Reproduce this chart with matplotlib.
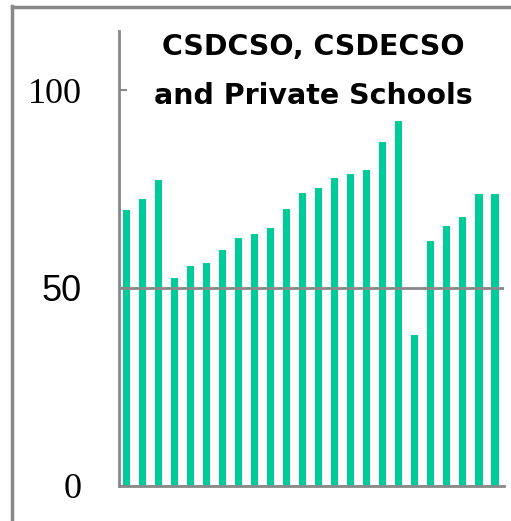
import matplotlib
matplotlib.use('Agg')
import matplotlib.pyplot as plt
import matplotlib.transforms as mtransforms
from matplotlib.lines import Line2D

# доля по годам, %
years = list(range(1, 25))
values = [69.7, 72.5, 77.3, 52.5, 55.6, 56.3, 59.6, 62.6, 63.6, 65.2, 70.0, 74.0,
          75.3, 77.8, 78.8, 79.8, 86.9, 92.2, 38.1, 61.9, 65.7, 67.9, 73.7, 73.7]
y_ticks = [0, 50, 100]
y_tick_labels = ['0', '50', '100']
title = 'CSDCSO, CSDECSO\nand Private Schools'

bar_color = '#00cc99'
gray = '#888888'

fig = plt.figure(figsize=(5.11, 5.21), dpi=100)
ax = fig.add_axes([0.2329, 0.0672, 0.7534, 0.8733])

x = list(range(len(values)))
ax.bar(x, values, width=0.44, color=bar_color, zorder=2)
ax.axhline(50, color=gray, lw=2, zorder=3)

ax.set_xlim(-0.44, len(values) - 1 + 0.56)
ax.set_ylim(0, 114.9)

for side in ['top', 'right']:
	ax.spines[side].set_visible(False)
for side in ['left', 'bottom']:
	ax.spines[side].set_color(gray)
	ax.spines[side].set_linewidth(2)

ax.set_xticks([])
ax.set_yticks(y_ticks)
ax.set_yticklabels([])
ax.tick_params(axis='y', direction='in', length=6, width=1.5, color=gray)

# подписи оси Y рисуем сами: у них разные шрифты
fonts = {'0': 'Liberation Serif', '50': 'Liberation Sans', '100': 'Liberation Serif'}
trans = mtransforms.blended_transform_factory(ax.transAxes, ax.transData)
offset = mtransforms.ScaledTranslation(-37 / 100, 0, fig.dpi_scale_trans)
for val, txt in zip(y_ticks, y_tick_labels):
	ax.text(0, val, txt, transform=trans + offset, ha='right', va='center_baseline',
			fontsize=26, family=fonts[txt], color='black')

ax.text(0.505, 0.995, title, transform=ax.transAxes, ha='center', va='top',
		fontsize=20.5, fontweight='bold', family='DejaVu Sans', linespacing=1.95, zorder=5)

# рамка слева и сверху
fig.add_artist(Line2D([12 / 511, 12 / 511], [0, 1 - 6 / 521], transform=fig.transFigure,
					  color=gray, lw=2.5))
fig.add_artist(Line2D([12 / 511, 1], [1 - 7 / 521, 1 - 7 / 521], transform=fig.transFigure,
					  color=gray, lw=2.5))

fig.savefig('out.png', dpi=100)
